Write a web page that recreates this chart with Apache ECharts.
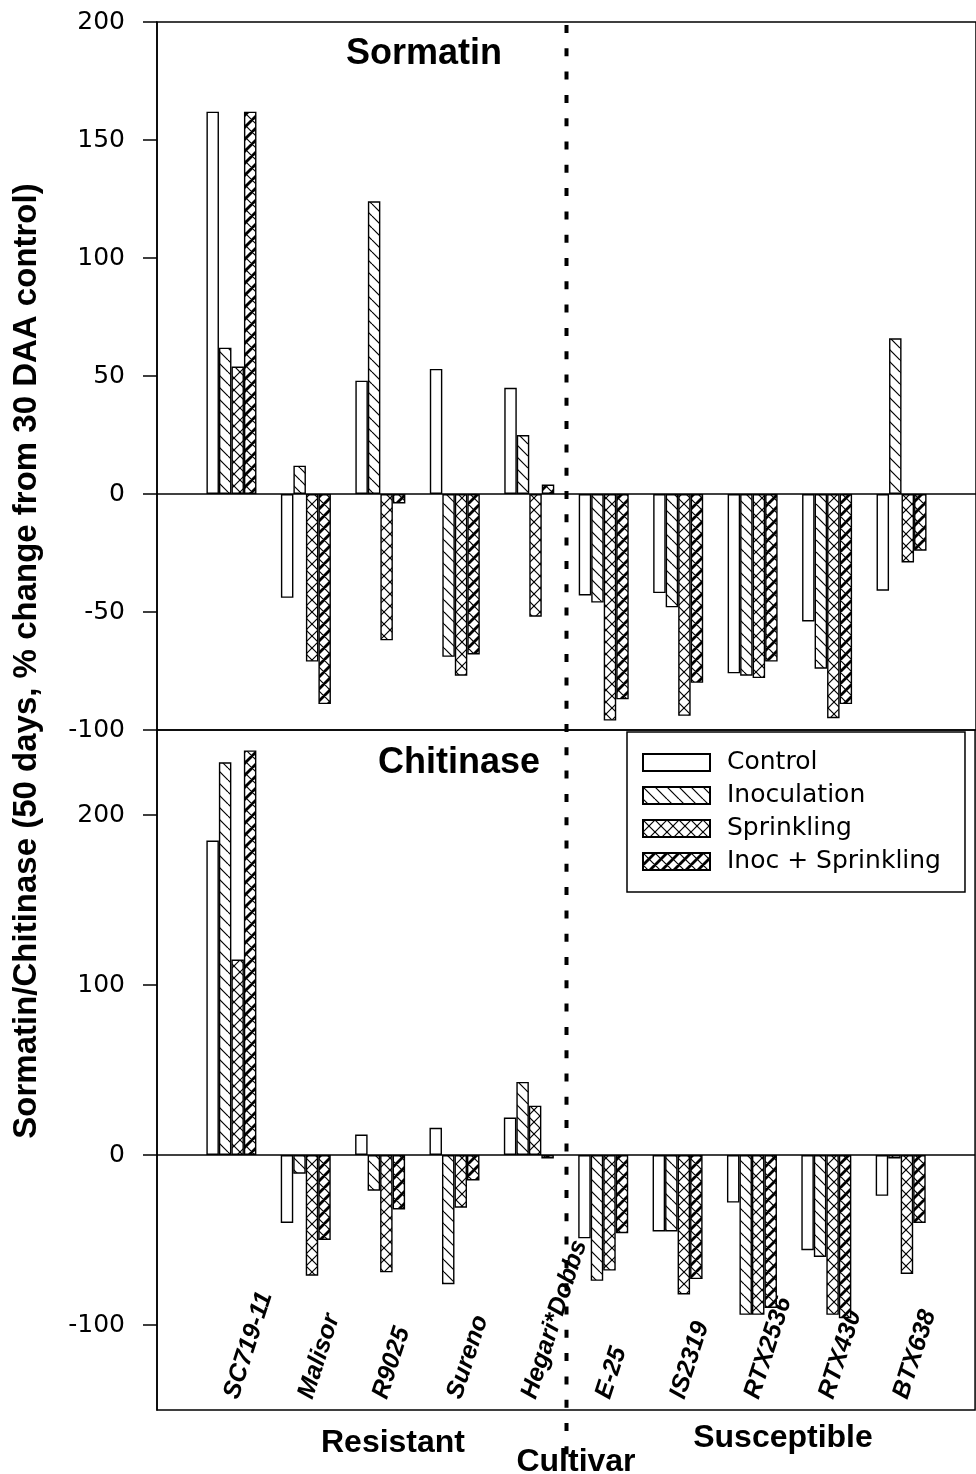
<!DOCTYPE html>
<html>
<head>
<meta charset="utf-8">
<script src="https://cdn.jsdelivr.net/npm/echarts@6/dist/echarts.min.js"></script>
<style>
  html, body { margin: 0; padding: 0; background: #fff; }
  #chart { width: 976px; height: 1474px; }
</style>
</head>
<body>
<div id="chart"></div>
<script>
// cultivars along the x axis (positions 1..10)
const cultivars = ['SC719-11', 'Malisor', 'R9025', 'Sureno', 'Hegari*Dobbs', 'E-25', 'IS2319', 'RTX2536', 'RTX430', 'BTX638'];
const treatments = ['Control', 'Inoculation', 'Sprinkling', 'Inoc + Sprinkling'];

// Sormatin panel (% change)
const sormControl = [162, -44, 48, 53, 45, -43, -42, -76, -54, -41];
const sormInoc    = [62, 12, 124, -69, 25, -46, -48, -77, -74, 66];
const sormSprink  = [54, -71, -62, -77, -52, -96, -94, -78, -95, -29];
const sormBoth    = [162, -89, -4, -68, 4, -87, -80, -71, -89, -24];

// Chitinase panel (% change)
const chitControl = [185, -40, 12, 16, 22, -49, -45, -28, -56, -24];
const chitInoc    = [231, -11, -21, -76, 43, -74, -45, -94, -60, -2];
const chitSprink  = [115, -71, -69, -31, 29, -68, -82, -94, -94, -70];
const chitBoth    = [238, -50, -32, -15, -2, -46, -73, -90, -96, -40];

const chitTicks = [-100, 0, 100, 200];

const FONT = 'Liberation Sans, Arial, Helvetica, sans-serif';
const TICKFONT = 'DejaVu Sans, Liberation Sans, sans-serif';

// hatch fills
function hatch(back, fwd, fwdWidth) {
  const s = 12;
  const c = document.createElement('canvas');
  c.width = s; c.height = s;
  const ctx = c.getContext('2d');
  ctx.fillStyle = '#fff';
  ctx.fillRect(0, 0, s, s);
  ctx.strokeStyle = '#000';
  for (let k = -1; k <= 1; k++) {
    if (back) {
      ctx.lineWidth = 1.2;
      ctx.beginPath();
      ctx.moveTo(k * s, 0); ctx.lineTo(k * s + s, s);
      ctx.stroke();
    }
    if (fwd) {
      ctx.lineWidth = fwdWidth;
      ctx.beginPath();
      ctx.moveTo(k * s, s); ctx.lineTo(k * s + s, 0);
      ctx.stroke();
    }
  }
  return { image: c, repeat: 'repeat' };
}
const fills = ['#fff', hatch(true, false, 1.2), hatch(true, true, 1.2), hatch(true, true, 2.8)];

const chart = echarts.init(document.getElementById('chart'));

function barSeries(panel, idx, values) {
  const s = {
    type: 'bar',
    name: treatments[idx],
    xAxisIndex: panel,
    yAxisIndex: panel,
    barWidth: 12.5,
    barGap: '0%',
    data: values.map((v, i) => [i + 1, v]),
    itemStyle: { color: fills[idx], borderColor: '#000', borderWidth: 1.4 },
    emphasis: { disabled: true }
  };
  if (idx === 0) {
    s.markLine = {
      silent: true,
      symbol: ['none', 'none'],
      label: { show: false },
      lineStyle: { color: '#000', width: 1.5, type: 'solid' },
      data: [{ yAxis: 0 }]
    };
  }
  return s;
}

const yBase = {
  axisLine: { show: true, lineStyle: { color: '#000', width: 1.5 } },
  axisTick: { show: true, inside: false, length: 14, lineStyle: { color: '#000', width: 1.5 } },
  axisLabel: { color: '#000', fontSize: 25, fontFamily: TICKFONT, margin: 32 },
  splitLine: { show: false }
};

const option = {
  animation: false,
  backgroundColor: '#fff',
  grid: [
    { left: 157, top: 22, width: 827, height: 708, show: true, borderColor: '#000', borderWidth: 1.5 },
    { left: 157, top: 730, width: 827, height: 680, show: true, borderColor: '#000', borderWidth: 1.5 }
  ],
  xAxis: [
    { type: 'value', gridIndex: 0, min: 0, max: 11, show: false },
    {
      type: 'value', gridIndex: 1, min: 0, max: 11, interval: 1,
      axisLine: { show: false },
      axisTick: { show: false },
      splitLine: { show: false },
      axisLabel: {
        inside: true,
        rotate: 72,
        margin: 12,
        color: '#000',
        fontSize: 25,
        fontWeight: 'bold',
        fontStyle: 'italic',
        fontFamily: FONT,
        formatter: v => cultivars[v - 1] || ''
      }
    }
  ],
  yAxis: [
    Object.assign({ type: 'value', gridIndex: 0, min: -100, max: 200, interval: 50 }, yBase),
    Object.assign({}, yBase, {
      type: 'value', gridIndex: 1, min: -150, max: 250, interval: 50,
      axisTick: Object.assign({}, yBase.axisTick, { customValues: chitTicks }),
      axisLabel: Object.assign({}, yBase.axisLabel, { customValues: chitTicks })
    })
  ],
  legend: {
    data: treatments,
    orient: 'vertical',
    left: 627,
    top: 732,
    padding: [18, 24, 18, 15],
    itemWidth: 67,
    itemHeight: 17,
    itemGap: 8,
    icon: 'rect',
    selectedMode: false,
    borderColor: '#000',
    borderWidth: 1.5,
    backgroundColor: '#fff',
    textStyle: { color: '#000', fontSize: 25, fontFamily: TICKFONT, padding: [0, 0, 0, 12] }
  },
  series: [
    barSeries(0, 0, sormControl),
    barSeries(0, 1, sormInoc),
    barSeries(0, 2, sormSprink),
    barSeries(0, 3, sormBoth),
    barSeries(1, 0, chitControl),
    barSeries(1, 1, chitInoc),
    barSeries(1, 2, chitSprink),
    barSeries(1, 3, chitBoth)
  ]
};
chart.setOption(option);

// divider between resistant and susceptible cultivars, plus text annotations
const xDiv = chart.convertToPixel({ xAxisIndex: 0 }, 5.5);
const yTop = chart.convertToPixel({ yAxisIndex: 0 }, 200);
const yBot = chart.convertToPixel({ yAxisIndex: 1 }, -150);

function label(text, x, y, size, extra) {
  return Object.assign({
    type: 'text', x: x, y: y, silent: true,
    style: { text: text, fill: '#000', font: 'bold ' + size + 'px ' + FONT, textAlign: 'center', textVerticalAlign: 'middle' }
  }, extra || {});
}

chart.setOption({
  graphic: [
    {
      type: 'line', silent: true, z: 10,
      shape: { x1: xDiv, y1: yTop + 3, x2: xDiv, y2: yBot + 45 },
      style: { stroke: '#000', lineWidth: 4, lineDash: [8, 15.3] }
    },
    label('Sormatin', 424, 54, 36),
    label('Chitinase', 459, 763, 36),
    label('Sormatin/Chitinase (50 days, % change from 30 DAA control)', 27, 661, 33, { rotation: Math.PI / 2 }),
    label('Resistant', 393, 1443, 32),
    label('Cultivar', 576, 1462, 32),
    label('Susceptible', 783, 1438, 32)
  ]
});
</script>
</body>
</html>
